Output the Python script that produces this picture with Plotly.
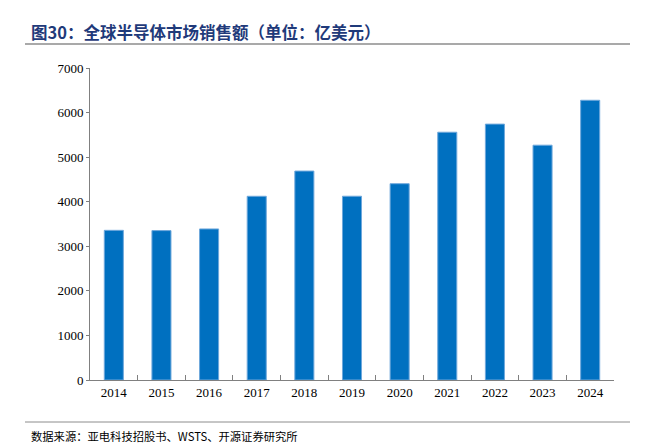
import plotly.graph_objects as go

years = ["2014", "2015", "2016", "2017", "2018", "2019", "2020", "2021", "2022", "2023", "2024"]
sales = [3358, 3352, 3389, 4122, 4688, 4123, 4404, 5559, 5741, 5268, 6276]
y_ticks = [0, 1000, 2000, 3000, 4000, 5000, 6000, 7000]

# page renders the figure with an 8px body offset; work in reference pixels
OFF = 8
W, H = 656 - OFF, 448 - OFF
L, T = 90 - OFF, 68 - OFF
R = W - (614 - OFF)
B = H - (380 - OFF)
pw, ph = W - L - R, H - T - B

def px(x):
    return (x - OFF - L) / pw

def py(y):
    return (H - B - (y - OFF)) / ph

fig = go.Figure()
fig.add_trace(go.Bar(
    x=years, y=sales, width=0.4,
    marker=dict(color="#0070C0", line=dict(color="#6FA8DC", width=1)),
))

fig.update_layout(
    width=W, height=H,
    margin=dict(l=L, r=R, t=T, b=B, pad=0),
    paper_bgcolor="white", plot_bgcolor="white",
    showlegend=False,
    font=dict(family="Liberation Serif, Times New Roman, serif", size=13, color="#000000"),
    xaxis=dict(
        type="category", showgrid=False, showline=True, linecolor="#808080", linewidth=1,
        ticks="inside", tickson="boundaries", ticklen=5, tickcolor="#808080",
        tickfont=dict(family="Liberation Serif", size=13),
    ),
    yaxis=dict(
        range=[0, 7000], tickvals=y_ticks, showgrid=False, showline=True,
        linecolor="#808080", linewidth=1, ticks="outside", ticklen=3, tickcolor="#808080",
        tickfont=dict(family="Liberation Serif", size=13), zeroline=False,
    ),
    shapes=[
        dict(type="line", xref="paper", yref="paper", x0=px(25), x1=px(630), y0=py(44), y1=py(44),
             line=dict(color="#8C8C8C", width=1.5)),
        dict(type="line", xref="paper", yref="paper", x0=px(25), x1=px(630), y0=py(422), y1=py(422),
             line=dict(color="#8C8C8C", width=1)),
    ],
    annotations=[
        dict(text="<b>图30：全球半导体市场销售额（单位：亿美元）</b>", xref="paper", yref="paper",
             x=px(29), y=py(32), xanchor="left", yanchor="middle", showarrow=False,
             font=dict(family="Noto Sans CJK SC", size=16.5, color="#1F3A7A")),
        dict(text="数据来源：亚电科技招股书、WSTS、开源证券研究所", xref="paper", yref="paper",
             x=px(29), y=py(436), xanchor="left", yanchor="middle", showarrow=False,
             font=dict(family="Noto Sans CJK SC", size=11.3, color="#000000")),
    ],
)

fig.write_html("out.html")
